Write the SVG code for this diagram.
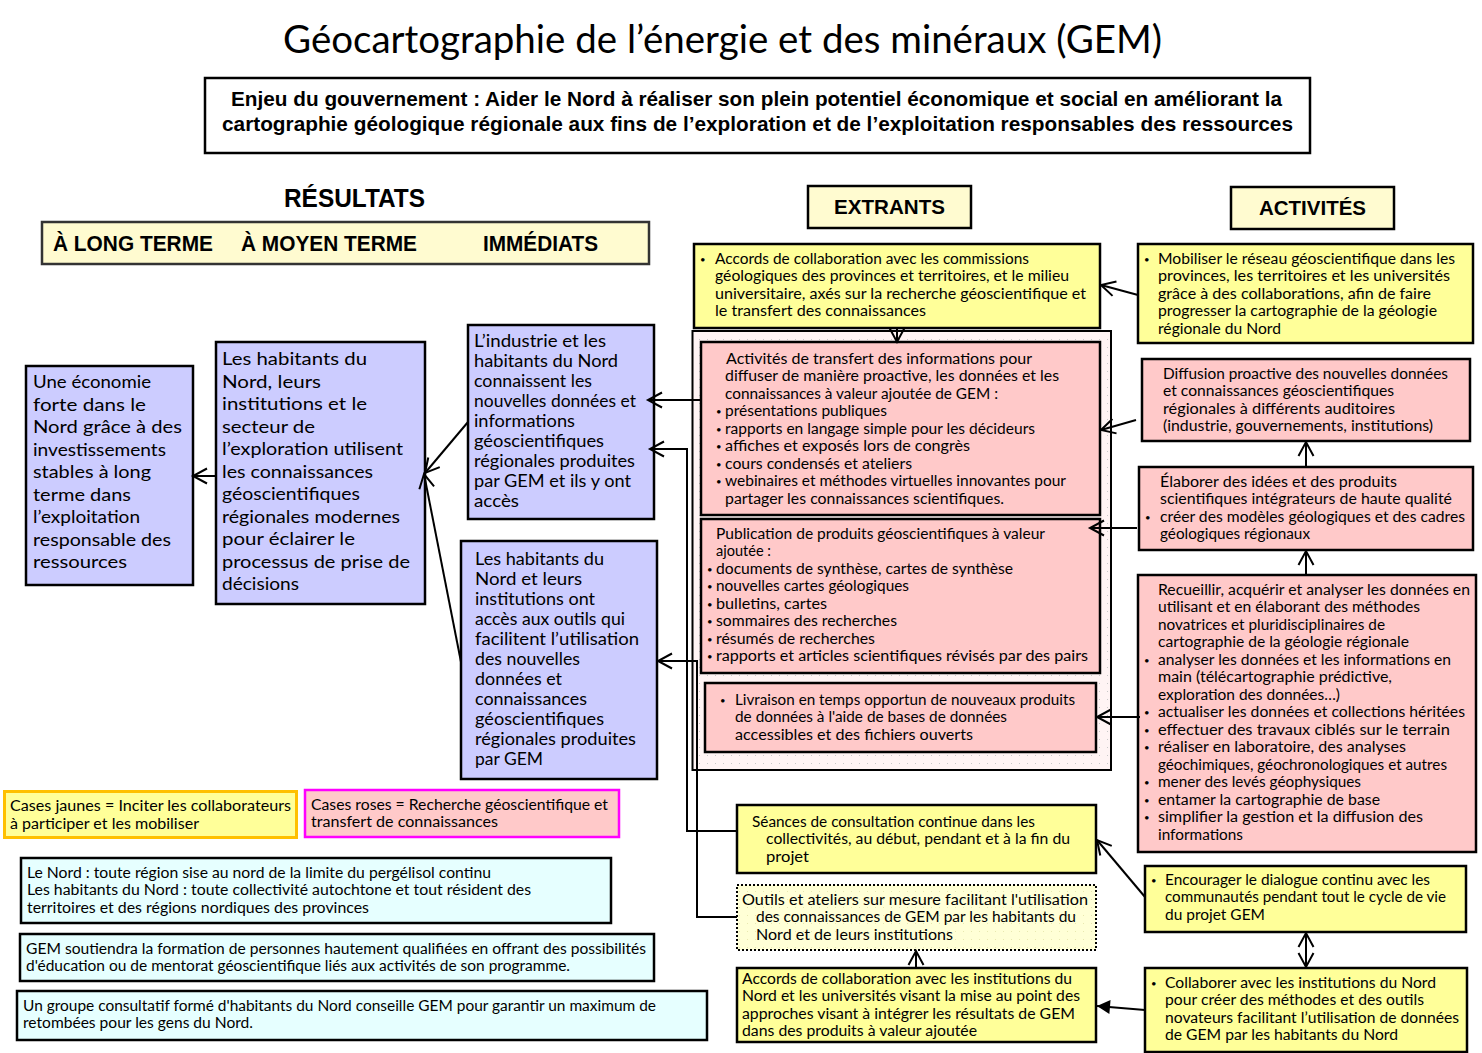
<svg xmlns="http://www.w3.org/2000/svg" width="1482" height="1053" viewBox="0 0 1482 1053">
<style>
text{font-family:"Lato","Noto Sans",sans-serif;font-size:14.6px;fill:#000}
text>tspan:first-child{font-size:9.5px;baseline-shift:1.5px}
.h{font-family:"Liberation Sans",Arial,sans-serif;font-weight:bold}
.b{font-family:"Lato","Noto Sans",sans-serif;font-size:16.5px}
.n{font-family:"Lato","Noto Sans",sans-serif;font-size:14.5px}
.box{stroke:#000;stroke-width:2.5}
.y{fill:#FFFF99}.p{fill:#FFC9C9}.v{fill:#CCCCFF}.c{fill:#E6FFFF}.l{fill:#FFFBD0}
.cn{fill:none;stroke:#000;stroke-width:2}
</style>
<defs>
<marker id="open" markerUnits="userSpaceOnUse" markerWidth="20" markerHeight="20" viewBox="-16 -10 20 20" refX="0" refY="0" orient="auto"><path d="M-14,-7.5 L0,0 L-14,7.5" fill="none" stroke="#000" stroke-width="2"/></marker>
<marker id="solid" markerUnits="userSpaceOnUse" markerWidth="20" markerHeight="20" viewBox="-16 -10 20 20" refX="0" refY="0" orient="auto"><path d="M-13,-7 L0,0 L-13,7 Z" fill="#000"/></marker>
<pattern id="dots" width="8" height="8" patternUnits="userSpaceOnUse"><rect width="8" height="8" fill="#FFF4F4"/><rect x="3" y="3" width="1" height="1" fill="#C8C8C8"/></pattern>
<pattern id="ydots" width="8" height="8" patternUnits="userSpaceOnUse"><rect width="8" height="8" fill="#FFFFD6"/><rect x="3" y="3" width="1" height="1" fill="#E8E8B0"/></pattern>
</defs>
<rect width="1482" height="1053" fill="#fff"/>
<g id="title"><text x="283" y="53" textLength="879" lengthAdjust="spacingAndGlyphs" style="font-family:Lato,'Noto Sans',sans-serif;font-size:38px">Géocartographie de l’énergie et des minéraux (GEM)</text></g>
<g id="enjeu"><rect class="box" x="205" y="78" width="1105" height="75" fill="#fff"/>
<text class="h" x="231" y="106" textLength="1051" lengthAdjust="spacingAndGlyphs" style="font-size:21px">Enjeu du gouvernement : Aider le Nord à réaliser son plein potentiel économique et social en améliorant la</text>
<text class="h" x="222" y="131" textLength="1071" lengthAdjust="spacingAndGlyphs" style="font-size:21px">cartographie géologique régionale aux fins de l’exploration et de l’exploitation responsables des ressources</text></g>
<g id="resultats"><text class="h" x="284" y="207" textLength="141" lengthAdjust="spacingAndGlyphs" style="font-size:25px">RÉSULTATS</text></g>
<g id="horizons"><rect x="42" y="222" width="607" height="42" class="l" stroke="#333" stroke-width="2.5"/>
<text class="h" x="53" y="251" textLength="160" lengthAdjust="spacingAndGlyphs" style="font-size:22px">À LONG TERME</text>
<text class="h" x="241" y="251" textLength="176" lengthAdjust="spacingAndGlyphs" style="font-size:22px">À MOYEN TERME</text>
<text class="h" x="483" y="251" textLength="115" lengthAdjust="spacingAndGlyphs" style="font-size:22px">IMMÉDIATS</text></g>
<g id="extrants"><rect class="box l" x="808" y="186" width="163" height="42"/><text class="h" x="834" y="214" textLength="111" lengthAdjust="spacingAndGlyphs" style="font-size:21px">EXTRANTS</text></g>
<g id="activites"><rect class="box l" x="1231" y="187" width="163" height="42"/><text class="h" x="1259" y="215" textLength="107" lengthAdjust="spacingAndGlyphs" style="font-size:21px">ACTIVITÉS</text></g>

<g id="conteneur"><rect x="692.5" y="331" width="418.5" height="439" fill="url(#dots)" stroke="#000" stroke-width="2"/></g>

<g id="ext-accords"><rect class="box y" x="694" y="244" width="406" height="84"/>
<text y="264"><tspan x="700">•</tspan><tspan x="715" textLength="314" lengthAdjust="spacingAndGlyphs">Accords de collaboration avec les commissions</tspan></text>
<text x="715" y="281" textLength="354" lengthAdjust="spacingAndGlyphs">géologiques des provinces et territoires, et le milieu</text>
<text x="715" y="299" textLength="371" lengthAdjust="spacingAndGlyphs">universitaire, axés sur la recherche géoscientifique et</text>
<text x="715" y="316" textLength="211" lengthAdjust="spacingAndGlyphs">le transfert des connaissances</text></g>

<g id="ext-transfert"><rect class="box p" x="701" y="342" width="399" height="173"/>
<text x="726" y="364" textLength="306" lengthAdjust="spacingAndGlyphs">Activités de transfert des informations pour</text>
<text x="725" y="381" textLength="334" lengthAdjust="spacingAndGlyphs">diffuser de manière proactive, les données et les</text>
<text x="725" y="399" textLength="273" lengthAdjust="spacingAndGlyphs">connaissances à valeur ajoutée de GEM :</text>
<text y="416"><tspan x="716">•</tspan><tspan x="725" textLength="162" lengthAdjust="spacingAndGlyphs">présentations publiques</tspan></text>
<text y="434"><tspan x="716">•</tspan><tspan x="725" textLength="310" lengthAdjust="spacingAndGlyphs">rapports en langage simple pour les décideurs</tspan></text>
<text y="451"><tspan x="716">•</tspan><tspan x="725" textLength="245" lengthAdjust="spacingAndGlyphs">affiches et exposés lors de congrès</tspan></text>
<text y="469"><tspan x="716">•</tspan><tspan x="725" textLength="187" lengthAdjust="spacingAndGlyphs">cours condensés et ateliers</tspan></text>
<text y="486"><tspan x="716">•</tspan><tspan x="725" textLength="341" lengthAdjust="spacingAndGlyphs">webinaires et méthodes virtuelles innovantes pour</tspan></text>
<text x="725" y="504" textLength="279" lengthAdjust="spacingAndGlyphs">partager les connaissances scientifiques.</text></g>

<g id="ext-publication"><rect class="box p" x="701" y="519" width="399" height="154"/>
<text x="716" y="539" textLength="329" lengthAdjust="spacingAndGlyphs">Publication de produits géoscientifiques à valeur</text>
<text x="716" y="556" textLength="55" lengthAdjust="spacingAndGlyphs">ajoutée :</text>
<text y="574"><tspan x="707">•</tspan><tspan x="716" textLength="297" lengthAdjust="spacingAndGlyphs">documents de synthèse, cartes de synthèse</tspan></text>
<text y="591"><tspan x="707">•</tspan><tspan x="716" textLength="193" lengthAdjust="spacingAndGlyphs">nouvelles cartes géologiques</tspan></text>
<text y="609"><tspan x="707">•</tspan><tspan x="716" textLength="111" lengthAdjust="spacingAndGlyphs">bulletins, cartes</tspan></text>
<text y="626"><tspan x="707">•</tspan><tspan x="716" textLength="181" lengthAdjust="spacingAndGlyphs">sommaires des recherches</tspan></text>
<text y="644"><tspan x="707">•</tspan><tspan x="716" textLength="159" lengthAdjust="spacingAndGlyphs">résumés de recherches</tspan></text>
<text y="661"><tspan x="707">•</tspan><tspan x="716" textLength="372" lengthAdjust="spacingAndGlyphs">rapports et articles scientifiques révisés par des pairs</tspan></text></g>

<g id="ext-livraison"><rect class="box p" x="705" y="683" width="391" height="69"/>
<text y="705"><tspan x="720">•</tspan><tspan x="735" textLength="340" lengthAdjust="spacingAndGlyphs">Livraison en temps opportun de nouveaux produits</tspan></text>
<text x="735" y="722" textLength="272" lengthAdjust="spacingAndGlyphs">de données à l'aide de bases de données</text>
<text x="735" y="740" textLength="238" lengthAdjust="spacingAndGlyphs">accessibles et des fichiers ouverts</text></g>

<g id="ext-seances"><rect class="box y" x="737" y="805" width="359" height="68"/>
<text x="752" y="827" textLength="283" lengthAdjust="spacingAndGlyphs">Séances de consultation continue dans les</text>
<text x="766" y="844" textLength="304" lengthAdjust="spacingAndGlyphs">collectivités, au début, pendant et à la fin du</text>
<text x="766" y="862" textLength="43" lengthAdjust="spacingAndGlyphs">projet</text></g>

<g id="ext-outils"><rect x="737" y="885" width="359" height="65" fill="url(#ydots)" stroke="#000" stroke-width="2" stroke-dasharray="2 2"/>
<text x="742" y="905" textLength="346" lengthAdjust="spacingAndGlyphs">Outils et ateliers sur mesure facilitant l'utilisation</text>
<text x="756" y="922" textLength="320" lengthAdjust="spacingAndGlyphs">des connaissances de GEM par les habitants du</text>
<text x="756" y="940" textLength="197" lengthAdjust="spacingAndGlyphs">Nord et de leurs institutions</text></g>

<g id="ext-institutions"><rect class="box y" x="737" y="968" width="359" height="74"/>
<text x="742" y="984" textLength="330" lengthAdjust="spacingAndGlyphs">Accords de collaboration avec les institutions du</text>
<text x="742" y="1001" textLength="338" lengthAdjust="spacingAndGlyphs">Nord et les universités visant la mise au point des</text>
<text x="742" y="1019" textLength="333" lengthAdjust="spacingAndGlyphs">approches visant à intégrer les résultats de GEM</text>
<text x="742" y="1036" textLength="235" lengthAdjust="spacingAndGlyphs">dans des produits à valeur ajoutée</text></g>

<g id="act-mobiliser"><rect class="box y" x="1138" y="244" width="335" height="99"/>
<text y="264"><tspan x="1144">•</tspan><tspan x="1158" textLength="297" lengthAdjust="spacingAndGlyphs">Mobiliser le réseau géoscientifique dans les</tspan></text>
<text x="1158" y="281" textLength="292" lengthAdjust="spacingAndGlyphs">provinces, les territoires et les universités</text>
<text x="1158" y="299" textLength="273" lengthAdjust="spacingAndGlyphs">grâce à des collaborations, afin de faire</text>
<text x="1158" y="316" textLength="279" lengthAdjust="spacingAndGlyphs">progresser la cartographie de la géologie</text>
<text x="1158" y="334" textLength="123" lengthAdjust="spacingAndGlyphs">régionale du Nord</text></g>

<g id="act-diffusion"><rect class="box p" x="1142" y="359" width="328" height="82"/>
<text x="1163" y="379" textLength="285" lengthAdjust="spacingAndGlyphs">Diffusion proactive des nouvelles données</text>
<text x="1163" y="396" textLength="231" lengthAdjust="spacingAndGlyphs">et connaissances géoscientifiques</text>
<text x="1163" y="414" textLength="232" lengthAdjust="spacingAndGlyphs">régionales à différents auditoires</text>
<text x="1163" y="431" textLength="270" lengthAdjust="spacingAndGlyphs">(industrie, gouvernements, institutions)</text></g>

<g id="act-elaborer"><rect class="box p" x="1139" y="467" width="334" height="83"/>
<text x="1160" y="487" textLength="237" lengthAdjust="spacingAndGlyphs">Élaborer des idées et des produits</text>
<text x="1160" y="504" textLength="292" lengthAdjust="spacingAndGlyphs">scientifiques intégrateurs de haute qualité</text>
<text y="522"><tspan x="1145">•</tspan><tspan x="1160" textLength="305" lengthAdjust="spacingAndGlyphs">créer des modèles géologiques et des cadres</tspan></text>
<text x="1160" y="539" textLength="150" lengthAdjust="spacingAndGlyphs">géologiques régionaux</text></g>

<g id="act-recueillir"><rect class="box p" x="1138" y="575" width="338" height="277"/>
<text x="1158" y="595" textLength="312" lengthAdjust="spacingAndGlyphs">Recueillir, acquérir et analyser les données en</text>
<text x="1158" y="612" textLength="262" lengthAdjust="spacingAndGlyphs">utilisant et en élaborant des méthodes</text>
<text x="1158" y="630" textLength="227" lengthAdjust="spacingAndGlyphs">novatrices et pluridisciplinaires de</text>
<text x="1158" y="647" textLength="251" lengthAdjust="spacingAndGlyphs">cartographie de la géologie régionale</text>
<text y="665"><tspan x="1144">•</tspan><tspan x="1158" textLength="293" lengthAdjust="spacingAndGlyphs">analyser les données et les informations en</tspan></text>
<text x="1158" y="682" textLength="234" lengthAdjust="spacingAndGlyphs">main (télécartographie prédictive,</text>
<text x="1158" y="700" textLength="182" lengthAdjust="spacingAndGlyphs">exploration des données…)</text>
<text y="717"><tspan x="1144">•</tspan><tspan x="1158" textLength="307" lengthAdjust="spacingAndGlyphs">actualiser les données et collections héritées</tspan></text>
<text y="735"><tspan x="1144">•</tspan><tspan x="1158" textLength="292" lengthAdjust="spacingAndGlyphs">effectuer des travaux ciblés sur le terrain</tspan></text>
<text y="752"><tspan x="1144">•</tspan><tspan x="1158" textLength="248" lengthAdjust="spacingAndGlyphs">réaliser en laboratoire, des analyses</tspan></text>
<text x="1158" y="770" textLength="289" lengthAdjust="spacingAndGlyphs">géochimiques, géochronologiques et autres</text>
<text y="787"><tspan x="1144">•</tspan><tspan x="1158" textLength="203" lengthAdjust="spacingAndGlyphs">mener des levés géophysiques</tspan></text>
<text y="805"><tspan x="1144">•</tspan><tspan x="1158" textLength="222" lengthAdjust="spacingAndGlyphs">entamer la cartographie de base</tspan></text>
<text y="822"><tspan x="1144">•</tspan><tspan x="1158" textLength="265" lengthAdjust="spacingAndGlyphs">simplifier la gestion et la diffusion des</tspan></text>
<text x="1158" y="840" textLength="85" lengthAdjust="spacingAndGlyphs">informations</text></g>

<g id="act-encourager"><rect class="box y" x="1145" y="866" width="321" height="66"/>
<text y="885"><tspan x="1151">•</tspan><tspan x="1165" textLength="265" lengthAdjust="spacingAndGlyphs">Encourager le dialogue continu avec les</tspan></text>
<text x="1165" y="902" textLength="281" lengthAdjust="spacingAndGlyphs">communautés pendant tout le cycle de vie</text>
<text x="1165" y="920" textLength="100" lengthAdjust="spacingAndGlyphs">du projet GEM</text></g>

<g id="act-collaborer"><rect class="box y" x="1145" y="968" width="322" height="84"/>
<text y="988"><tspan x="1151">•</tspan><tspan x="1165" textLength="271" lengthAdjust="spacingAndGlyphs">Collaborer avec les institutions du Nord</tspan></text>
<text x="1165" y="1005" textLength="259" lengthAdjust="spacingAndGlyphs">pour créer des méthodes et des outils</text>
<text x="1165" y="1023" textLength="294" lengthAdjust="spacingAndGlyphs">novateurs facilitant l’utilisation de données</text>
<text x="1165" y="1040" textLength="233" lengthAdjust="spacingAndGlyphs">de GEM par les habitants du Nord</text></g>

<g id="res-long"><rect class="box v" x="26" y="366" width="167" height="219"/>
<text class="b" x="33" y="388" textLength="118" lengthAdjust="spacingAndGlyphs">Une économie</text>
<text class="b" x="33" y="411" textLength="113" lengthAdjust="spacingAndGlyphs">forte dans le</text>
<text class="b" x="33" y="433" textLength="149" lengthAdjust="spacingAndGlyphs">Nord grâce à des</text>
<text class="b" x="33" y="456" textLength="133" lengthAdjust="spacingAndGlyphs">investissements</text>
<text class="b" x="33" y="478" textLength="118" lengthAdjust="spacingAndGlyphs">stables à long</text>
<text class="b" x="33" y="501" textLength="98" lengthAdjust="spacingAndGlyphs">terme dans</text>
<text class="b" x="33" y="523" textLength="107" lengthAdjust="spacingAndGlyphs">l’exploitation</text>
<text class="b" x="33" y="546" textLength="138" lengthAdjust="spacingAndGlyphs">responsable des</text>
<text class="b" x="33" y="568" textLength="94" lengthAdjust="spacingAndGlyphs">ressources</text></g>

<g id="res-moyen"><rect class="box v" x="216" y="342" width="209" height="262"/>
<text class="b" x="222" y="365" textLength="145" lengthAdjust="spacingAndGlyphs">Les habitants  du</text>
<text class="b" x="222" y="388" textLength="99" lengthAdjust="spacingAndGlyphs">Nord, leurs</text>
<text class="b" x="222" y="410" textLength="145" lengthAdjust="spacingAndGlyphs">institutions  et le</text>
<text class="b" x="222" y="433" textLength="93" lengthAdjust="spacingAndGlyphs">secteur de</text>
<text class="b" x="222" y="455" textLength="181" lengthAdjust="spacingAndGlyphs">l’exploration utilisent</text>
<text class="b" x="222" y="478" textLength="151" lengthAdjust="spacingAndGlyphs">les connaissances</text>
<text class="b" x="222" y="500" textLength="138" lengthAdjust="spacingAndGlyphs">géoscientifiques</text>
<text class="b" x="222" y="523" textLength="178" lengthAdjust="spacingAndGlyphs">régionales  modernes</text>
<text class="b" x="222" y="545" textLength="133" lengthAdjust="spacingAndGlyphs">pour éclairer  le</text>
<text class="b" x="222" y="568" textLength="188" lengthAdjust="spacingAndGlyphs">processus de prise de</text>
<text class="b" x="222" y="590" textLength="77" lengthAdjust="spacingAndGlyphs">décisions</text></g>

<g id="res-industrie"><rect class="box v" x="468" y="325" width="186" height="194"/>
<text class="b" x="474" y="347" textLength="132" lengthAdjust="spacingAndGlyphs">L’industrie et les</text>
<text class="b" x="474" y="367" textLength="144" lengthAdjust="spacingAndGlyphs">habitants du Nord</text>
<text class="b" x="474" y="387" textLength="118" lengthAdjust="spacingAndGlyphs">connaissent les</text>
<text class="b" x="474" y="407" textLength="162" lengthAdjust="spacingAndGlyphs">nouvelles données et</text>
<text class="b" x="474" y="427" textLength="101" lengthAdjust="spacingAndGlyphs">informations</text>
<text class="b" x="474" y="447" textLength="130" lengthAdjust="spacingAndGlyphs">géoscientifiques</text>
<text class="b" x="474" y="467" textLength="161" lengthAdjust="spacingAndGlyphs">régionales produites</text>
<text class="b" x="474" y="487" textLength="157" lengthAdjust="spacingAndGlyphs">par GEM et ils y ont</text>
<text class="b" x="474" y="507" textLength="45" lengthAdjust="spacingAndGlyphs">accès</text></g>

<g id="res-outils"><rect class="box v" x="461" y="541" width="196" height="238"/>
<text class="b" x="475" y="565" textLength="129" lengthAdjust="spacingAndGlyphs">Les habitants du</text>
<text class="b" x="475" y="585" textLength="107" lengthAdjust="spacingAndGlyphs">Nord et leurs</text>
<text class="b" x="475" y="605" textLength="120" lengthAdjust="spacingAndGlyphs">institutions ont</text>
<text class="b" x="475" y="625" textLength="150" lengthAdjust="spacingAndGlyphs">accès aux outils qui</text>
<text class="b" x="475" y="645" textLength="164" lengthAdjust="spacingAndGlyphs">facilitent l’utilisation</text>
<text class="b" x="475" y="665" textLength="105" lengthAdjust="spacingAndGlyphs">des nouvelles</text>
<text class="b" x="475" y="685" textLength="87" lengthAdjust="spacingAndGlyphs">données et</text>
<text class="b" x="475" y="705" textLength="112" lengthAdjust="spacingAndGlyphs">connaissances</text>
<text class="b" x="475" y="725" textLength="129" lengthAdjust="spacingAndGlyphs">géoscientifiques</text>
<text class="b" x="475" y="745" textLength="161" lengthAdjust="spacingAndGlyphs">régionales produites</text>
<text class="b" x="475" y="765" textLength="68" lengthAdjust="spacingAndGlyphs">par GEM</text></g>

<g id="legende-jaune"><rect x="4.5" y="791.5" width="292" height="46" class="y" stroke="#FFC000" stroke-width="3"/>
<text class="n" x="10" y="811" textLength="281" lengthAdjust="spacingAndGlyphs">Cases jaunes = Inciter les collaborateurs</text>
<text class="n" x="10" y="829" textLength="189" lengthAdjust="spacingAndGlyphs">à participer et les mobiliser</text></g>
<g id="legende-rose"><rect x="305" y="790" width="314" height="47" class="p" stroke="#FF00FF" stroke-width="2.5"/>
<text class="n" x="311" y="810" textLength="297" lengthAdjust="spacingAndGlyphs">Cases roses = Recherche géoscientifique et</text>
<text class="n" x="311" y="827" textLength="187" lengthAdjust="spacingAndGlyphs">transfert de connaissances</text></g>
<g id="note-nord"><rect class="box c" x="21" y="858" width="590" height="65"/>
<text class="n" x="27" y="878" textLength="464" lengthAdjust="spacingAndGlyphs">Le Nord : toute région sise au nord de la limite du pergélisol continu</text>
<text class="n" x="27" y="895" textLength="504" lengthAdjust="spacingAndGlyphs">Les habitants du Nord : toute collectivité autochtone et tout résident des</text>
<text class="n" x="27" y="913" textLength="342" lengthAdjust="spacingAndGlyphs">territoires et des régions nordiques des provinces</text></g>
<g id="note-formation"><rect class="box c" x="20" y="934" width="634" height="47"/>
<text class="n" x="26" y="954" textLength="620" lengthAdjust="spacingAndGlyphs">GEM soutiendra la formation de personnes hautement qualifiées en offrant des possibilités</text>
<text class="n" x="26" y="971" textLength="544" lengthAdjust="spacingAndGlyphs">d'éducation ou de mentorat géoscientifique liés aux activités de son programme.</text></g>
<g id="note-groupe"><rect class="box c" x="17" y="991" width="690" height="49"/>
<text class="n" x="23" y="1011" textLength="633" lengthAdjust="spacingAndGlyphs">Un groupe consultatif formé d'habitants du Nord conseille GEM pour garantir un maximum de</text>
<text class="n" x="23" y="1028" textLength="230" lengthAdjust="spacingAndGlyphs">retombées pour les gens du Nord.</text></g>

<g id="connecteurs">
<path class="cn" marker-end="url(#open)" d="M1138,295 L1101,285"/>
<path class="cn" marker-end="url(#open)" d="M1136,420 L1101,430"/>
<path class="cn" marker-end="url(#open)" d="M1137,528 L1090,528"/>
<path class="cn" marker-end="url(#open)" d="M1140,717 L1097,717"/>
<path class="cn" marker-end="url(#open)" d="M897,328 L897,342"/>
<path class="cn" marker-end="url(#open)" d="M701,400 L648,400"/>
<path class="cn" marker-end="url(#open)" d="M737,831 L687,831 L687,449 L650,449"/>
<path class="cn" marker-end="url(#open)" d="M737,917 L697,917 L697,661 L658,661"/>
<path class="cn" marker-end="url(#open)" d="M1145,897 L1097,840"/>
<path class="cn" marker-end="url(#open)" d="M1306,950 L1306,933"/>
<path class="cn" marker-end="url(#open)" d="M1306,950 L1306,967"/>
<path class="cn" stroke-width="2.5" marker-end="url(#solid)" d="M1145,1010 L1097,1006"/>
<path class="cn" marker-end="url(#open)" d="M916,968 L916,951"/>
<path class="cn" marker-end="url(#open)" d="M1306,575 L1306,551"/>
<path class="cn" marker-end="url(#open)" d="M1306,467 L1306,442"/>
<path class="cn" marker-end="url(#open)" d="M468,422 L425,473"/>
<path class="cn" marker-end="url(#open)" d="M461,662 L424,474"/>
<path class="cn" marker-end="url(#open)" d="M216,476 L193,476"/>
</g>
</svg>
